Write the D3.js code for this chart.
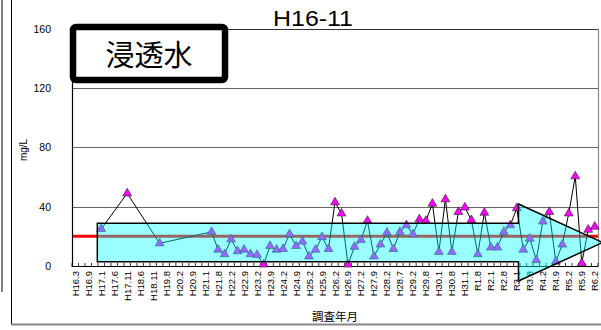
<!DOCTYPE html>
<html><head><meta charset="utf-8">
<script src="https://cdn.jsdelivr.net/npm/d3@7/dist/d3.min.js"></script>
<style>body{margin:0;background:#fff}svg{display:block}</style>
</head><body><svg id="c" width="601" height="330"></svg>
<script>
const chartTitle = "H16-11";
const stationName = "浸透水";
const xTitle = "調査年月";
const yTitle = "mg/L";
const xLabels = ["H16.3","H16.9","H17.1","H17.6","H17.11","H18.6","H18.11","H19.8","H20.2","H20.9",
  "H21.1","H21.8","H22.2","H22.9","H23.2","H23.9","H24.2","H24.9","H25.2","H25.9",
  "H26.2","H26.9","H27.2","H27.9","H28.2","H28.7","H29.2","H29.8","H30.1","H30.8",
  "H31.1","R1.8","R2.1","R2.8","R3.1","R3.8","R4.2","R4.9","R5.2","R5.9","R6.2"];
const yTicks = [0, 40, 80, 120, 160];
// one value per survey (81 surveys, every second one labelled); null = not measured
const values = [null,null,null,null,25,null,null,null,49,null,
  null,null,null,15.3,null,null,null,null,null,null,
  null,23,11,8,18,10,11,8,7.5,1,
  13.5,11,11.5,21.5,13.5,16.5,6.5,11,19.5,11.5,
  43,35.5,1,13,17.5,30.5,6.5,14.5,22.5,11.5,
  23,27.5,21.5,31.5,30.5,42,9.5,45,9.5,36.5,
  39.5,31,8,36,12.5,12.5,23,27.5,39,11,
  18.5,4,30,36.5,3,14.5,35.5,60.5,2,24.5,26.5];
const referenceValue = 20;
const rangeLow = 2.9, rangeHigh = 28.8;

const svg = d3.select("#c");
const L = 72, R = 598, T = 28.8, B = 266;
const n = values.length;
const xb = d3.scaleBand().domain(d3.range(n)).range([L, R]).paddingInner(0).paddingOuter(0);
const xu = d3.scaleLinear().domain([0, n]).range([L, R]); // band units, for annotations
const y = d3.scaleLinear().domain([0, 160]).range([B, T]);
const cx = i => xb(i) + xb.bandwidth() / 2;

// outer frame
svg.append("line").attr("x1",2).attr("x2",2).attr("y1",0).attr("y2",292).attr("stroke","#000").attr("stroke-width",1);
svg.append("line").attr("x1",11.5).attr("x2",11.5).attr("y1",0).attr("y2",324).attr("stroke","#000").attr("stroke-width",1);
svg.append("line").attr("x1",11).attr("x2",601).attr("y1",324.5).attr("y2",324.5).attr("stroke","#888").attr("stroke-width",2);

// gridlines
svg.append("g").selectAll("line").data(yTicks.filter(d => d > 0)).join("line")
  .attr("x1", L).attr("x2", R).attr("y1", d => Math.round(y(d)) + 0.5).attr("y2", d => Math.round(y(d)) + 0.5)
  .attr("stroke", d => d === 160 ? "#333" : "#666").attr("stroke-width", 1.2);
svg.append("line").attr("x1", R + 0.5).attr("x2", R + 0.5).attr("y1", y(160)).attr("y2", B)
  .attr("stroke", "#888").attr("stroke-width", 1.2);

// y axis
const yAxis = svg.append("g").attr("transform", `translate(${L},0)`)
  .call(d3.axisLeft(y).tickValues(yTicks).tickSize(0).tickPadding(21));
yAxis.select(".domain").attr("stroke", "#000").attr("stroke-width", 1.2);
yAxis.selectAll("text").attr("font-family", "Liberation Sans, Arial, sans-serif").attr("font-size", 10.5).attr("fill", "#000");

// x axis
const xAxis = svg.append("g").attr("transform", `translate(0,${B})`);
xAxis.append("line").attr("x1", L).attr("x2", R).attr("y1", 0.5).attr("y2", 0.5).attr("stroke", "#000").attr("stroke-width", 1.2);
xAxis.selectAll("line.tk").data(d3.range(n + 1)).join("line").attr("class", "tk")
  .attr("x1", i => xu(i)).attr("x2", i => xu(i)).attr("y1", -3).attr("y2", 1)
  .attr("stroke", "#000").attr("stroke-width", 0.8);
xAxis.selectAll("text").data(xLabels).join("text")
  .attr("transform", (d, k) => `translate(${cx(k * 2) + 3.5},5) rotate(-90)`)
  .attr("text-anchor", "end")
  .attr("font-family", "Liberation Sans, Arial, sans-serif").attr("font-size", 9.5).attr("fill", "#000")
  .text(d => d);

// reference line
svg.append("line").attr("x1", L + 1).attr("x2", R).attr("y1", y(referenceValue)).attr("y2", y(referenceValue))
  .attr("stroke", "#ff0000").attr("stroke-width", 3);

// data
const pts = values.map((v, i) => ({ i, v })).filter(d => d.v !== null);
svg.append("path").datum(pts)
  .attr("d", d3.line().x(d => cx(d.i)).y(d => y(d.v)))
  .attr("fill", "none").attr("stroke", "#000").attr("stroke-width", 1);
svg.append("g").selectAll("path").data(pts).join("path")
  .attr("transform", d => `translate(${cx(d.i)},${y(d.v)})`)
  .attr("d", d3.symbol(d3.symbolTriangle, 34))
  .attr("fill", "#ff00ff").attr("stroke", "#222").attr("stroke-width", 0.6);

// range arrow overlay (semi-transparent cyan)
const yMid = (rangeLow + rangeHigh) / 2, headHalf = 26;
const x0 = xu(3.9), xh = xu(68.75), xt = xu(81.7);
const arrow = [[x0, y(rangeHigh)], [xh, y(rangeHigh)], [xh, y(yMid + headHalf)], [xt, y(yMid)],
  [xh, y(yMid - headHalf)], [xh, y(rangeLow)], [x0, y(rangeLow)]];
svg.append("path").attr("d", d3.line()(arrow) + "Z")
  .attr("fill", "#00ffff").attr("fill-opacity", 0.4)
  .attr("stroke", "#000").attr("stroke-width", 1.5).attr("stroke-linejoin", "miter");

// title
svg.append("text").attr("x", 313).attr("y", 26).attr("text-anchor", "middle")
  .attr("font-family", "Liberation Sans, Arial, sans-serif").attr("font-size", 22)
  .attr("textLength", 80).attr("lengthAdjust", "spacingAndGlyphs").text(chartTitle);

// station label box
svg.append("rect").attr("x", 73).attr("y", 27).attr("width", 152).attr("height", 53).attr("rx", 3)
  .attr("fill", "#fff").attr("stroke", "#000").attr("stroke-width", 6.5);
svg.append("text").attr("x", 149).attr("y", 66).attr("text-anchor", "middle")
  .attr("font-family", "Noto Sans CJK JP, sans-serif").attr("font-size", 29).text(stationName);

// axis titles
svg.append("text").attr("x", 335).attr("y", 321).attr("text-anchor", "middle")
  .attr("font-family", "Noto Sans CJK JP, sans-serif").attr("font-size", 11.5).text(xTitle);
svg.append("text").attr("transform", "translate(27,150) rotate(-90)").attr("text-anchor", "middle")
  .attr("font-family", "Liberation Sans, Arial, sans-serif").attr("font-size", 10).text(yTitle);
</script></body></html>
